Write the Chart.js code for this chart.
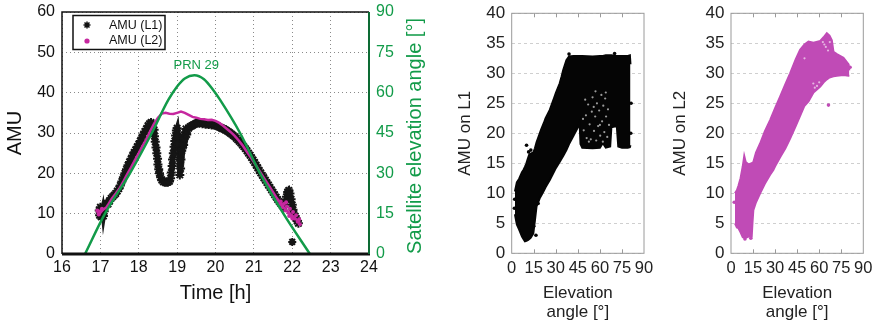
<!DOCTYPE html>
<html>
<head>
<meta charset="utf-8">
<script src="https://cdn.jsdelivr.net/npm/chart.js@4.4.1/dist/chart.umd.min.js"></script>
<style>
  html, body { margin: 0; padding: 0; background: #fff; }
  #wrap { position: relative; width: 877px; height: 326px; }
  canvas { position: absolute; top: 0; }
</style>
</head>
<body>
<div id="wrap">
  <canvas id="amuTime" width="440" height="326" style="left:0"></canvas>
  <canvas id="amuL1" width="220" height="326" style="left:440px"></canvas>
  <canvas id="amuL2" width="222" height="326" style="left:655px"></canvas>
</div>
<script>
// satellite elevation of PRN 29 over the pass: [time h, elevation deg]
const elevCurve = [
  [16.6, 0], [17.12, 15], [17.77, 30], [18.34, 45], [18.77, 57.3], [19.0, 62.3],
  [19.2, 65.3], [19.45, 66.5], [19.7, 65], [19.94, 61], [20.12, 57.3],
  [20.64, 45], [21.16, 30], [21.77, 15], [22.46, 0]
];

// AMU on L1 over time: [time h, AMU]
const l1Series = [
  [16.97, 10.8], [16.98, 9.6], [17.0, 11.6], [17.02, 9.2], [17.04, 10.4], [17.06, 11.2],
  [17.08, 9.4], [17.1, 10.6], [17.13, 12.0], [17.16, 12.6], [17.2, 12.4], [17.24, 13.2],
  [17.28, 13.8], [17.32, 14.2], [17.36, 14.6], [17.4, 15.0], [17.44, 15.6], [17.48, 16.2],
  [17.52, 17.0], [17.56, 18.0], [17.6, 19.0], [17.64, 20.0], [17.68, 21.0], [17.72, 22.0],
  [17.76, 22.8], [17.8, 23.6], [17.84, 24.4], [17.88, 25.2], [17.92, 25.8], [17.96, 26.6],
  [18.0, 27.2], [18.04, 28.0], [18.08, 28.8], [18.12, 29.6], [18.16, 30.4], [18.2, 31.0],
  [18.24, 31.8], [18.28, 32.3], [18.32, 32.6], [18.36, 32.2],
  [18.4, 30.8], [18.41, 29.2], [18.43, 27.8], [18.45, 26.4], [18.47, 25.0], [18.49, 23.6],
  [18.5, 22.2], [18.52, 21.0], [18.54, 20.0], [18.57, 19.0], [18.6, 18.3], [18.64, 17.9],
  [18.68, 17.8], [18.72, 17.8], [18.76, 17.8], [18.8, 18.0], [18.83, 18.8], [18.85, 20.2],
  [18.87, 21.8], [18.88, 23.4], [18.9, 25.0], [18.92, 26.6], [18.94, 28.0], [18.96, 29.4],
  [18.98, 30.6], [19.0, 31.2], [19.02, 29.0], [19.03, 27.2], [19.05, 25.6], [19.06, 24.0],
  [19.07, 22.4], [19.07, 19.6], [19.09, 21.2], [19.1, 23.4], [19.12, 25.6], [19.14, 27.4],
  [19.15, 29.2], [19.17, 27.0], [19.19, 28.6], [19.21, 30.2], [19.23, 31.0], [19.25, 29.6],
  [19.27, 30.6], [19.3, 31.2], [19.34, 31.6], [19.38, 31.8], [19.42, 32.0], [19.46, 32.2],
  [19.5, 32.4], [19.54, 32.6], [19.58, 32.4], [19.62, 32.6], [19.66, 32.3], [19.7, 32.5],
  [19.74, 32.2], [19.78, 32.3], [19.82, 32.1], [19.86, 32.3], [19.9, 32.0], [19.94, 32.1],
  [19.98, 31.9], [20.02, 31.8], [20.06, 31.7], [20.1, 31.5], [20.14, 31.3], [20.18, 31.1],
  [20.22, 31.0], [20.26, 30.8], [20.3, 30.5], [20.34, 30.3], [20.38, 30.0], [20.42, 29.7],
  [20.46, 29.4], [20.5, 29.1], [20.54, 28.7], [20.58, 28.3], [20.62, 27.9], [20.66, 27.5],
  [20.7, 27.0], [20.74, 26.6], [20.78, 26.1], [20.82, 25.6], [20.86, 25.0], [20.9, 24.5],
  [20.94, 23.9], [20.98, 23.3], [21.02, 22.7], [21.06, 22.0], [21.1, 21.4], [21.14, 20.7],
  [21.18, 20.1], [21.22, 19.5], [21.26, 18.9], [21.3, 18.3], [21.34, 17.7], [21.38, 17.1],
  [21.42, 16.5], [21.46, 15.9], [21.5, 15.3], [21.54, 14.7], [21.58, 14.1], [21.62, 13.5],
  [21.66, 13.0], [21.7, 12.5], [21.74, 12.0], [21.78, 11.6], [21.82, 12.8], [21.85, 14.2],
  [21.88, 15.4], [21.91, 15.8], [21.94, 15.0], [21.97, 13.6], [22.0, 12.2], [22.02, 11.0],
  [22.04, 10.0], [22.07, 9.4], [22.1, 8.8], [22.13, 8.2], [22.16, 7.6]
];
// lone low L1 sample near the end of the pass
const l1Outlier = [[22.0, 3.0]];

// AMU on L2 over time: [time h, AMU]
const l2Series = [
  [16.92, 10.5], [16.95, 9.8], [17.0, 10.2], [17.05, 10.8], [17.1, 11.2], [17.15, 11.5],
  [17.2, 12.2], [17.25, 13.0], [17.3, 13.8], [17.4, 15.0], [17.5, 16.3], [17.6, 18.0],
  [17.7, 19.8], [17.8, 21.5], [17.9, 23.3], [18.0, 25.0], [18.1, 26.8], [18.2, 28.5],
  [18.3, 30.5], [18.4, 32.3], [18.5, 33.8], [18.6, 34.8], [18.7, 35.0], [18.8, 34.8],
  [18.9, 34.7], [19.0, 35.0], [19.1, 35.3], [19.2, 35.0], [19.3, 34.5], [19.4, 34.0],
  [19.5, 33.8], [19.6, 33.5], [19.7, 33.4], [19.8, 33.2], [19.9, 33.3], [20.0, 33.0],
  [20.1, 32.5], [20.2, 31.8], [20.3, 31.0], [20.4, 30.2], [20.5, 29.3], [20.6, 28.2],
  [20.7, 27.0], [20.8, 25.6], [20.9, 24.2], [21.0, 22.8], [21.1, 21.3], [21.2, 19.8],
  [21.3, 18.3], [21.4, 16.8], [21.5, 15.3], [21.6, 13.8], [21.7, 12.5], [21.8, 11.3],
  [21.9, 10.3], [22.0, 9.5], [22.1, 8.6], [22.2, 7.8]
];

// extra L2 samples where the trace spreads out
const l2Spread = [
  [16.92, 10.8], [16.96, 9.8], [17.0, 10.6], [17.04, 11.2],
  [21.62, 13.2], [21.66, 12.2], [21.7, 13.0], [21.74, 11.6], [21.78, 12.4], [21.82, 10.8],
  [21.84, 12.8], [21.86, 11.8], [21.9, 10.2], [21.92, 9.4], [21.94, 11.2], [21.98, 9.4],
  [22.0, 8.8], [22.02, 10.4], [22.06, 8.8], [22.1, 9.6], [22.14, 8.0], [22.18, 8.6], [22.2, 7.4]
];

// AMU on L1 against elevation: extent of the point cloud at each elevation (deg)
const l1Deg = [
  2.2, 3.5, 5, 7, 8, 9, 10, 11, 12, 13, 14.7, 15.8, 16.9, 19.1, 20, 22, 23, 25.9, 29, 30, 32.6,
  34, 35, 37.2, 39, 42, 45, 46.2, 46.8, 48, 55, 60, 62, 64, 67, 67.8, 71.5, 72.5, 75, 79, 80.4, 80.8
];
const l1Top = [
  10.3, 11.8, 12.4, 13.5, 13.9, 14.4, 15, 15.8, 16.5, 16.6, 16.8, 17.5, 18.5, 20, 20.6, 21.8, 22.5,
  23.9, 26, 26.7, 28.3, 29.5, 30.5, 32.2, 32.8, 32.9, 32.9, 32.9, 32.9, 32.9, 32.8, 32.9, 32.9, 33,
  33, 33, 32.9, 32.9, 32.9, 32.9, 33, 31.5
];
const l1Bottom = [
  6.5, 4.8, 4, 2.8, 2.4, 2, 2.1, 2.2, 2.4, 2.6, 3.3, 5.5, 7.8, 9.2, 9.6, 10.5, 11, 12.2, 13.7, 14.2,
  15.2, 15.8, 16.2, 17.2, 18.2, 19.6, 21, 21.8, 18.2, 17.6, 17.5, 17.6, 18.4, 17.6, 17.8, 21, 21.2,
  17.8, 17.6, 17.6, 17.7, 18
];
const l1Stray = [
  [10.1, 18], [11.5, 16.9], [13, 17.2], [2, 9], [1.8, 7.5], [16.5, 3], [15, 4.5],
  [18, 8.3], [39, 33.2], [70, 33.3], [81.2, 25], [81, 20]
];
const l1Gaps = [
  [49, 20.5], [50.5, 23], [51, 19.2], [52, 24.8], [53, 21.5], [53.8, 19], [54.5, 23.6],
  [55, 26], [56, 20.4], [56.8, 22.8], [57.5, 18.8], [58, 25], [58.8, 21.2], [59.5, 23.8],
  [60.2, 19.6], [61, 26.4], [61.5, 22], [62.3, 24.6], [63, 20.2], [63.6, 25.8], [64.2, 22.8],
  [65, 19.4], [65.5, 24], [66.2, 21.4], [50, 25.6], [52.5, 18.6], [55.8, 24.4], [60, 21.4],
  [64, 26.8], [48.5, 22.4], [57, 27], [62, 18.6]
];

// AMU on L2 against elevation: extent of the point cloud at each elevation (deg)
const l2Deg = [
  2.7, 4, 5, 6.5, 8, 9, 10, 12, 14.1, 14.6, 15.2, 17, 19.8, 23, 26.6, 28.8, 30, 33.4, 37, 40.2,
  44, 47, 50, 52.7, 56.1, 60.7, 63, 65.2, 67, 68.6, 69.7, 72, 76.5, 80, 80.5
];
const l2Top = [
  10, 10.5, 11.2, 12.5, 14.5, 16.2, 15.2, 14.8, 15, 15.1, 15.2, 16.8, 18.3, 20.3, 22.2, 23.5, 24.2,
  26.1, 28.2, 30, 32.3, 33.9, 34.8, 35.3, 35.1, 35.4, 36, 36.7, 36.3, 35.5, 33.6, 33.2, 32.6, 31.5, 30.5
];
const l2Bottom = [
  5, 4.3, 4.2, 3.5, 2.7, 2.6, 2.6, 2.8, 2.8, 5, 7.2, 8.5, 10, 11.6, 13.1, 13.9, 14.5, 16, 17.5, 19.1,
  21.2, 22.9, 24.6, 25.3, 26.8, 27.8, 28.5, 29.0, 29.3, 29.4, 29.5, 29.6, 29.7, 29.6, 29.6
];
const l2Stray = [[66.3, 24.7], [2.2, 8.5], [9.5, 2.4], [13.5, 2.5], [81, 31]];
const l2Gaps = [
  [56, 28.3], [57, 27.6], [58.5, 27.9], [60, 28.5], [62.5, 35.2], [63.5, 34.8],
  [64.5, 34.4], [66, 33.8], [67.2, 35.2], [50, 32.5]
];

const FONT = '"Liberation Sans", Arial, Helvetica, sans-serif';
const GREEN = '#129b49';
const MAGENTA = '#c6289f';
const PINK = '#c04bb6';
const INK = '#111';

Chart.defaults.font.family = FONT;
Chart.defaults.color = INK;
Chart.defaults.animation = false;

const toXY = pts => pts.map(([x, y]) => ({ x, y }));
const zipXY = (xs, ys) => xs.map((x, i) => ({ x, y: ys[i] }));

// fixed axis boxes so the plot areas land where intended
const fixWidth = w => s => { s.width = w; s.paddingTop = 0; s.paddingBottom = 0; };
const fixHeight = h => s => { s.height = h; s.paddingLeft = 0; s.paddingRight = 0; };

const timeDecor = {
  id: 'timeDecor',
  afterDraw(chart) {
    const { ctx, chartArea: a, scales } = chart;
    ctx.save();
    // frame: black on three sides, thick base, green elevation axis on the right
    ctx.strokeStyle = INK;
    ctx.lineWidth = 1.5;
    ctx.beginPath();
    ctx.moveTo(a.left, a.bottom); ctx.lineTo(a.left, a.top); ctx.lineTo(a.right, a.top);
    ctx.stroke();
    ctx.lineWidth = 3;
    ctx.beginPath(); ctx.moveTo(a.left, a.bottom); ctx.lineTo(a.right + 1, a.bottom); ctx.stroke();
    ctx.strokeStyle = '#0d6b34';
    ctx.lineWidth = 2;
    ctx.beginPath(); ctx.moveTo(a.right, a.top); ctx.lineTo(a.right, a.bottom); ctx.stroke();

    // legend box
    ctx.fillStyle = '#fff';
    ctx.fillRect(73, 15.5, 92, 34);
    ctx.strokeStyle = INK;
    ctx.lineWidth = 1.5;
    ctx.strokeRect(73, 15.5, 92, 34);
    ctx.fillStyle = INK;
    Chart.helpers.drawPoint(ctx, { pointStyle: 'star', radius: 3.5, borderWidth: 1.3, rotation: 0 }, 87, 25);
    ctx.fillStyle = MAGENTA;
    ctx.beginPath(); ctx.arc(87, 41, 2.6, 0, Math.PI * 2); ctx.fill();
    ctx.fillStyle = INK;
    ctx.font = '12.5px ' + FONT;
    ctx.textAlign = 'left';
    ctx.textBaseline = 'middle';
    ctx.fillText('AMU (L1)', 109, 25.5);
    ctx.fillText('AMU (L2)', 109, 41);

    // satellite label above the elevation peak
    ctx.fillStyle = GREEN;
    ctx.font = '13px ' + FONT;
    ctx.textAlign = 'center';
    ctx.fillText('PRN 29', scales.x.getPixelForValue(19.5), scales.y2.getPixelForValue(70));

    // right axis title, reading bottom to top
    ctx.translate(415, 136);
    ctx.rotate(-Math.PI / 2);
    ctx.font = '20px ' + FONT;
    ctx.fillText('Satellite elevation angle [°]', 0, 0);
    ctx.restore();
  }
};

new Chart(document.getElementById('amuTime'), {
  type: 'scatter',
  data: {
    datasets: [
      {
        label: 'PRN 29', data: toXY(elevCurve), yAxisID: 'y2', showLine: true,
        borderColor: GREEN, borderWidth: 2.5, pointRadius: 0,
        cubicInterpolationMode: 'monotone', order: 0
      },
      {
        label: 'AMU (L2)', data: toXY(l2Series), showLine: true,
        borderColor: MAGENTA, borderWidth: 2.5, pointRadius: 0, order: 1
      },
      {
        label: 'AMU (L2) spread', data: toXY(l2Spread),
        backgroundColor: MAGENTA, borderWidth: 0, pointRadius: 2, order: 1
      },
      {
        label: 'AMU (L1)', data: toXY(l1Series), pointStyle: 'star', showLine: true,
        borderColor: '#1a1a1a', borderWidth: 5, pointRadius: 4.5, pointBorderWidth: 2,
        pointBorderColor: '#151515', pointBackgroundColor: '#151515', order: 2
      },
      {
        label: 'AMU (L1) outlier', data: toXY(l1Outlier), pointStyle: 'star',
        pointRadius: 4, borderWidth: 2, borderColor: '#151515', order: 2
      }
    ]
  },
  options: {
    responsive: false,
    layout: { padding: { top: 12, left: 0, right: 0, bottom: 0 } },
    plugins: { legend: { display: false }, tooltip: { enabled: false } },
    scales: {
      x: {
        type: 'linear', min: 16, max: 24,
        ticks: { stepSize: 1, padding: 4, font: { size: 16 }, color: INK },
        grid: { color: '#8a8a8a', drawTicks: false },
        border: { display: false, dash: [1, 3] },
        title: { display: true, text: 'Time [h]', font: { size: 20 }, color: INK, padding: { top: 0, bottom: 21 } },
        afterFit: fixHeight(72)
      },
      y: {
        min: 0, max: 60,
        ticks: { stepSize: 10, padding: 7, font: { size: 16 }, color: INK },
        grid: { color: '#8a8a8a', drawTicks: false },
        border: { display: false, dash: [1, 3] },
        title: { display: true, text: 'AMU', font: { size: 20 }, color: INK, padding: { top: 3, bottom: 0 } },
        afterFit: fixWidth(62)
      },
      y2: {
        position: 'right', min: 0, max: 90,
        ticks: { stepSize: 15, padding: 7, font: { size: 16 }, color: GREEN },
        grid: { display: false, drawTicks: false },
        border: { display: false },
        afterFit: fixWidth(71)
      }
    }
  },
  plugins: [timeDecor]
});

// light frame with short inward ticks for the elevation panels
const panelFrame = {
  id: 'panelFrame',
  afterDraw(chart) {
    const { ctx, chartArea: a, scales } = chart;
    ctx.save();
    ctx.strokeStyle = '#9a9a9a';
    ctx.lineWidth = 1;
    ctx.strokeRect(a.left, a.top, a.right - a.left, a.bottom - a.top);
    ctx.beginPath();
    for (let v = 15; v < 90; v += 15) {
      const px = Math.round(scales.x.getPixelForValue(v)) + 0.5;
      ctx.moveTo(px, a.top); ctx.lineTo(px, a.top + 4);
      ctx.moveTo(px, a.bottom); ctx.lineTo(px, a.bottom - 4);
    }
    ctx.stroke();
    ctx.restore();
  }
};

function elevationPanel(canvasId, yLabel, color, deg, top, bottom, stray, gaps, leftWidth, rightPad) {
  new Chart(document.getElementById(canvasId), {
    type: 'scatter',
    data: {
      datasets: [
        {
          label: yLabel + ' upper', data: zipXY(deg, top), showLine: true,
          borderColor: color, borderWidth: 2, pointRadius: 0, fill: false, order: 3
        },
        {
          label: yLabel + ' lower', data: zipXY(deg, bottom), showLine: true,
          borderColor: color, borderWidth: 2, pointRadius: 0, fill: '-1',
          backgroundColor: color, order: 2
        },
        {
          label: yLabel + ' stray', data: toXY(stray),
          backgroundColor: color, borderWidth: 0, pointRadius: 1.8, order: 1
        },
        {
          label: yLabel + ' gaps', data: toXY(gaps),
          backgroundColor: 'rgba(255,255,255,0.6)', borderWidth: 0, pointRadius: 1.1, order: 0
        }
      ]
    },
    options: {
      responsive: false,
      layout: { padding: { top: 13.3, left: 0, right: rightPad, bottom: 0 } },
      plugins: { legend: { display: false }, tooltip: { enabled: false } },
      scales: {
        x: {
          type: 'linear', min: 0, max: 90,
          ticks: {
            stepSize: 15, padding: 5, font: { size: 16.5 }, color: '#222',
            autoSkip: false, maxRotation: 0, minRotation: 0
          },
          grid: { display: false, drawTicks: false },
          border: { display: false },
          title: {
            display: true, text: ['Elevation', 'angle [°]'], color: '#222',
            font: { size: 17, lineHeight: 19 / 17 }, padding: { top: 0, bottom: 4.5 }
          },
          afterFit: fixHeight(72.7)
        },
        y: {
          min: 0, max: 40,
          ticks: { stepSize: 5, padding: 6.5, font: { size: 17 }, color: '#222' },
          grid: { color: '#cfcfcf', drawTicks: false },
          border: { display: false, dash: [3, 3] },
          title: { display: true, text: yLabel, font: { size: 17 }, color: '#222', padding: { top: 15, bottom: 0 } },
          afterFit: fixWidth(leftWidth)
        }
      }
    },
    plugins: [panelFrame]
  });
}

elevationPanel('amuL1', 'AMU on L1', '#050505', l1Deg, l1Top, l1Bottom, l1Stray, l1Gaps, 71.7, 16);
elevationPanel('amuL2', 'AMU on L2', PINK, l2Deg, l2Top, l2Bottom, l2Stray, l2Gaps, 76, 13.7);
</script>
</body>
</html>
